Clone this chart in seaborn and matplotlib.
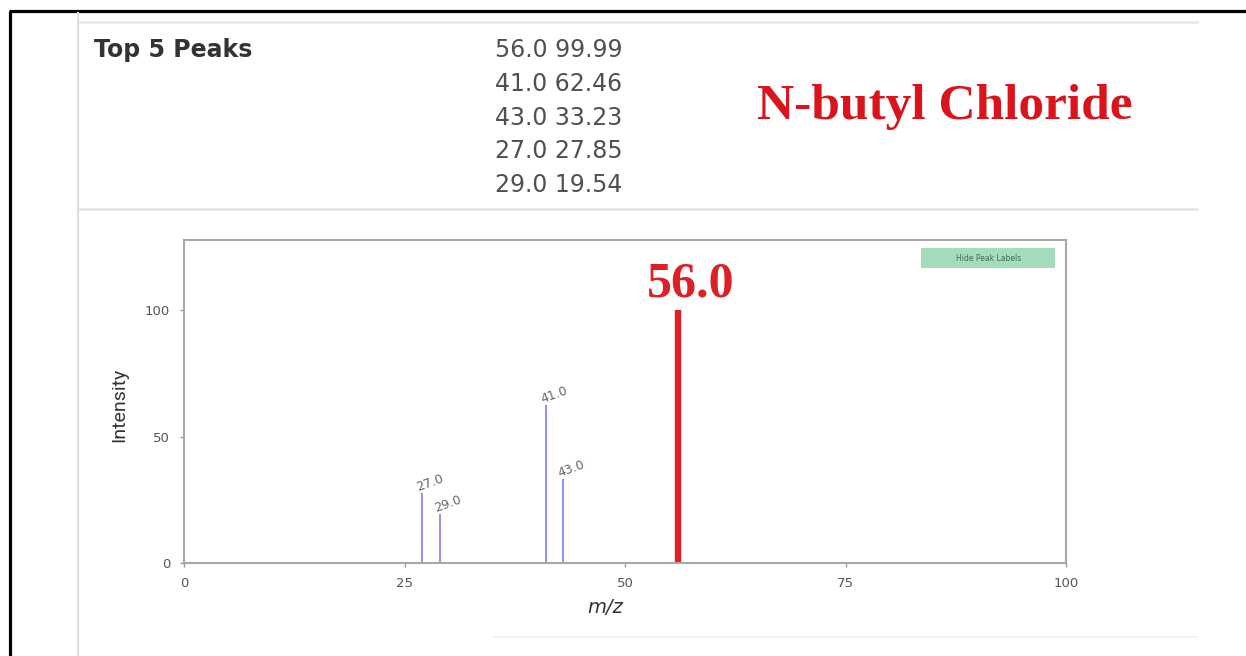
import pandas as pd
import seaborn as sns
import matplotlib.pyplot as plt
from matplotlib.lines import Line2D
from matplotlib.patches import Rectangle

# ---------------------------------------
# Datos del espectro (top 5 picos)
# ---------------------------------------
mz = [56.0, 41.0, 43.0, 27.0, 29.0]
intensity = [99.99, 62.46, 33.23, 27.85, 19.54]
compound = "N-butyl Chloride"
x_ticks = [0, 25, 50, 75, 100]
y_ticks = [0, 50, 100]

W, H = 1246, 656

sns.set_theme(style="white")
plt.rcParams['font.family'] = ['DejaVu Sans']
plt.rcParams['lines.solid_capstyle'] = 'butt'

fig = plt.figure(figsize=(W / 100, H / 100), dpi=100)


def px(x, y):
    return x / W, 1 - y / H


def fig_line(x0, y0, x1, y1, color, lw):
    (a, b), (c, d) = px(x0, y0), px(x1, y1)
    fig.add_artist(Line2D([a, c], [b, d], color=color, lw=lw, transform=fig.transFigure))


# marco de la captura
fig_line(9, 11, 1246, 11, "black", 2.3)
fig_line(10, 11, 10, 656, "black", 2.3)
fig_line(78, 12, 78, 656, "#dedede", 1.6)
fig_line(78, 22, 1198, 22, "#e6e6e6", 1.8)
fig_line(78, 209, 1198, 209, "#e3e3e3", 1.8)
fig_line(492, 637, 1198, 637, "#f2f2f2", 1.2)

# ---------------------------------------
# Tabla de picos
# ---------------------------------------
fig.text(*px(94, 50), "Top 5 Peaks", fontsize=17, fontweight="bold",
         color="#333333", va="center", ha="left")
for i, (m, v) in enumerate(zip(mz, intensity)):
    fig.text(*px(495, 50 + i * 33.8), f"{m:.1f} {v:.2f}", fontsize=17,
             color="#505050", va="center", ha="left")

fig.text(*px(945, 107), compound, fontsize=37, fontweight="bold",
         family="Liberation Serif", color="#d9141c", va="center", ha="center")

# ---------------------------------------
# Espectro de masas
# ---------------------------------------
ax = fig.add_axes([184 / W, 1 - 563 / H, (1066 - 184) / W, (563 - 240) / H])

base = max(intensity)
rows = []
for k, (m, v) in enumerate(zip(mz, intensity)):
    kind = "base" if v == base else "other"
    rows.append({"mz": m, "intensity": 0.0, "peak": k, "kind": kind})
    rows.append({"mz": m, "intensity": v, "peak": k, "kind": kind})
stems = pd.DataFrame(rows)

sns.lineplot(data=stems, x="mz", y="intensity", units="peak", estimator=None,
             hue="kind", palette={"base": "#dd1f26", "other": "#7272ec"},
             size="kind", sizes={"base": 4.6, "other": 1.1},
             legend=False, ax=ax)

for m, v in zip(mz, intensity):
    if v == base:
        ax.text(m + 1.4, v + 1.2, f"{m:.1f}", fontsize=36, fontweight="bold",
                family="Liberation Serif", color="#dd1f26", ha="center", va="bottom")
    else:
        ax.text(m - 0.3, v - 0.5, f"{m:.1f}", fontsize=9, color="#666666",
                rotation=20, ha="left", va="bottom", rotation_mode="anchor")

ax.set_xlim(0, 100)
ax.set_ylim(0, 127.7)
ax.set_xticks(x_ticks)
ax.set_yticks(y_ticks)
ax.tick_params(axis="both", labelsize=9.5, labelcolor="#555555", color="#999999",
               length=3, width=1, pad=7, direction="out", bottom=True, left=True)
for s in ax.spines.values():
    s.set_color("#a8a8a8")
    s.set_linewidth(1.5)

ax.set_xlabel("m/z", fontsize=14, style="italic", color="#333333")
ax.xaxis.set_label_coords(0.478, -0.108)
ax.set_ylabel("Intensity", fontsize=14, family="Roboto", color="#333333")
ax.yaxis.set_label_coords(-0.063, 0.49)

# botón "Hide Peak Labels"
ax.add_patch(Rectangle((0.836, 0.913), 0.152, 0.062, transform=ax.transAxes,
                       facecolor="#a5dcbc", edgecolor="none"))
ax.text(0.912, 0.944, "Hide Peak Labels", transform=ax.transAxes, fontsize=5.5,
        color="#3f6e50", ha="center", va="center")

fig.savefig("out.png", dpi=100)
